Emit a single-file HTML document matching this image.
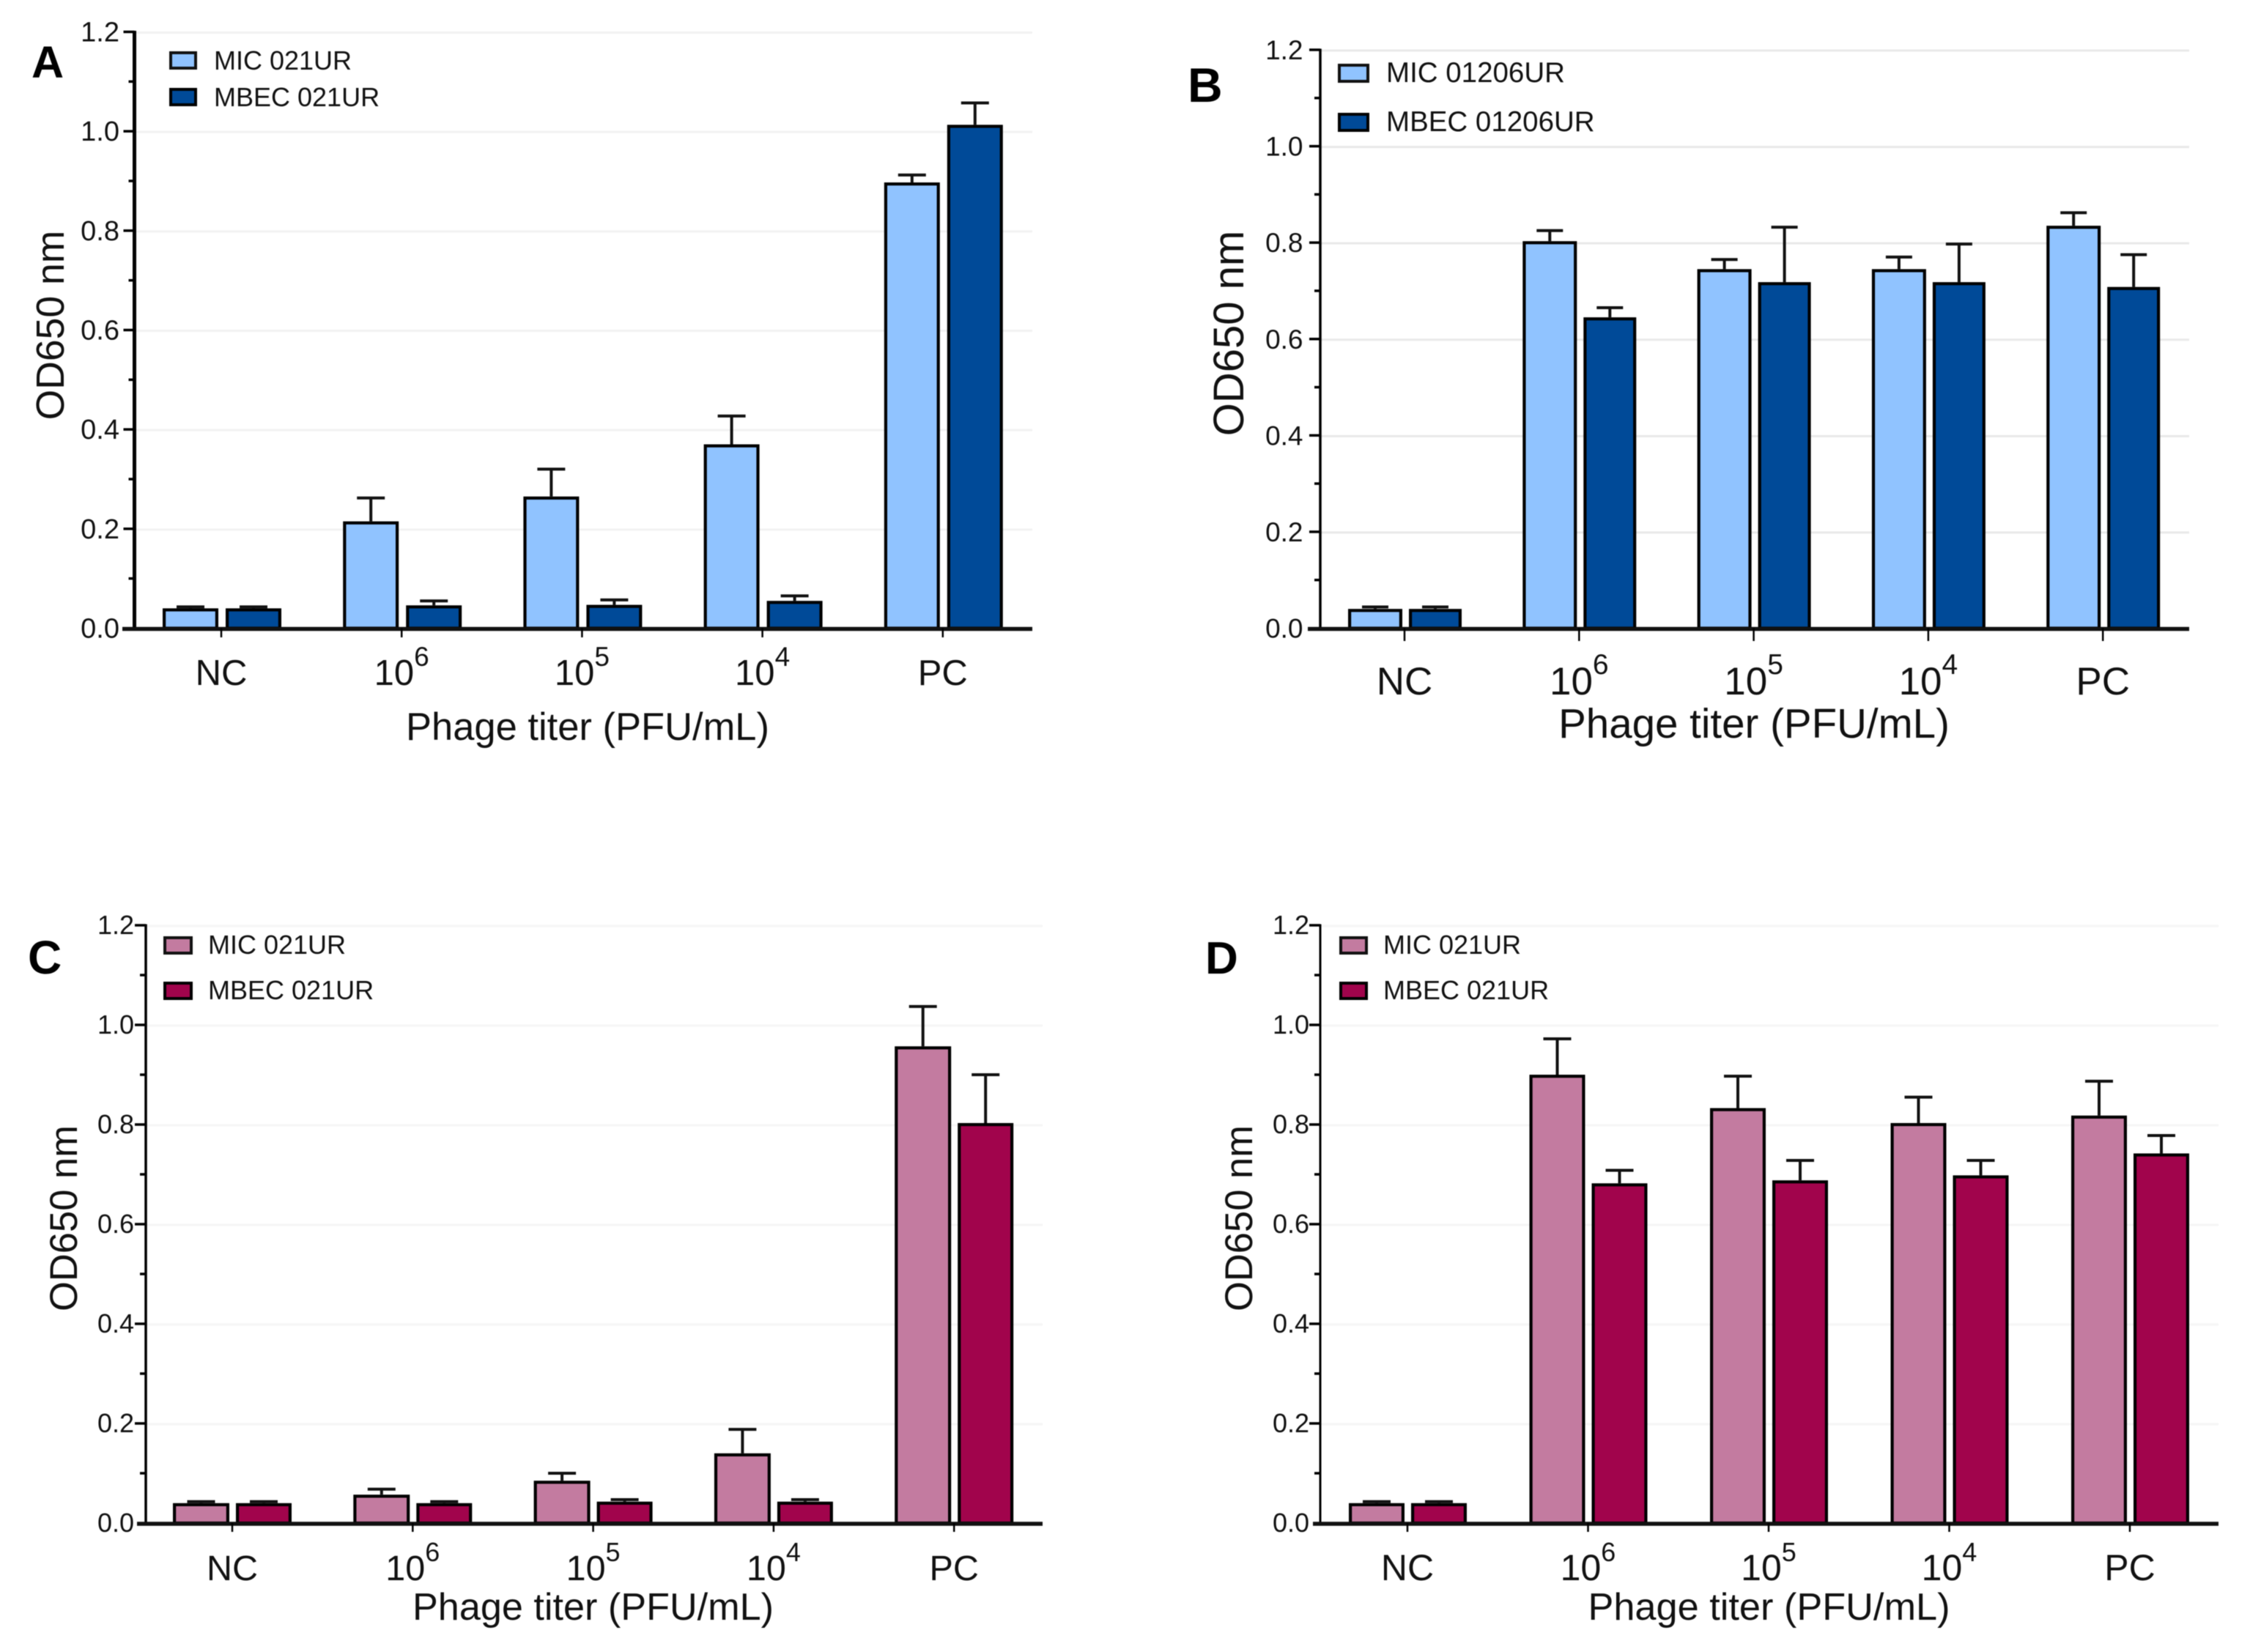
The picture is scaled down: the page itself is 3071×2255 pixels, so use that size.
<!DOCTYPE html>
<html lang="en">
<head>
<meta charset="utf-8">
<title>OD650 by phage titer</title>
<style>
html,body{margin:0;padding:0;background:#fff;}
svg{display:block;filter:blur(0.6px);}
text{font-family:"Liberation Sans",Arial,sans-serif;fill:#111;}
</style>
</head>
<body>
<svg id="figure" xmlns="http://www.w3.org/2000/svg" width="3071" height="2255" viewBox="0 0 3071 2255"></svg>
<script>
// Chart data
const categoryBases = ['NC', '10', '10', '10', 'PC'];
const categoryExponents = ['', '6', '5', '4', ''];
const yTickLabels = ['0.0', '0.2', '0.4', '0.6', '0.8', '1.0', '1.2'];
const yTickValues = [0, 0.2, 0.4, 0.6, 0.8, 1.0, 1.2];
const yMinorTickValues = [0.1, 0.3, 0.5, 0.7, 0.9, 1.1];

const panelAMicMeans = [0.04, 0.215, 0.265, 0.37, 0.897];
const panelAMicUpper = [0.043, 0.262, 0.32, 0.427, 0.912];
const panelAMbecMeans = [0.04, 0.046, 0.047, 0.055, 1.013];
const panelAMbecUpper = [0.043, 0.055, 0.057, 0.065, 1.057];

const panelBMicMeans = [0.04, 0.803, 0.745, 0.745, 0.835];
const panelBMicUpper = [0.044, 0.825, 0.765, 0.77, 0.862];
const panelBMbecMeans = [0.04, 0.645, 0.718, 0.718, 0.708];
const panelBMbecUpper = [0.044, 0.665, 0.832, 0.797, 0.775];

const panelCMicMeans = [0.04, 0.057, 0.085, 0.14, 0.957];
const panelCMicUpper = [0.043, 0.068, 0.1, 0.188, 1.037];
const panelCMbecMeans = [0.04, 0.04, 0.043, 0.043, 0.803];
const panelCMbecUpper = [0.043, 0.043, 0.047, 0.047, 0.9];

const panelDMicMeans = [0.04, 0.9, 0.833, 0.803, 0.818];
const panelDMicUpper = [0.043, 0.972, 0.897, 0.855, 0.887];
const panelDMbecMeans = [0.04, 0.682, 0.688, 0.698, 0.742];
const panelDMbecUpper = [0.043, 0.708, 0.728, 0.728, 0.778];

const SVGNS = 'http://www.w3.org/2000/svg';
const figure = document.getElementById('figure');
const barStroke = 4.2;

function make(parent, tag, props, content) {
  const node = document.createElementNS(SVGNS, tag);
  for (const key in props) { node.setAttribute(key, props[key]); }
  if (content !== undefined) { node.textContent = content; }
  parent.appendChild(node);
  return node;
}

const panels = [
  { id: 'a', letter: 'A', letterX: 43, letterY: 106, letterSize: 61,
    micMeans: panelAMicMeans, micUpper: panelAMicUpper, mbecMeans: panelAMbecMeans, mbecUpper: panelAMbecUpper,
    micColor: '#90C3FF', mbecColor: '#004A98', micLabel: 'MIC 021UR', mbecLabel: 'MBEC 021UR',
    axisX: 183.5, axisW: 5, axisLeft: 167, axisRight: 1409, y0: 857.5, yTop: 43.5, firstTick: 302, step: 246.2,
    barL: -80, barR: -4, bar2L: 6, bar2R: 82, capW: 38, tickSize: 38, tickRight: 163, tickDy: 13, gridColor: '#f2f2f2',
    tickBottom: 870, catBaseline: 935, catSize: 49, supBaseline: 909, supSize: 37,
    titleX: 802, titleY: 1010, titleSize: 52.5, yTitleX: 87, yTitleY: 444, yTitleSize: 53.5,
    legX: 231, legW: 38, legH: 25, legY1: 70, legY2: 120, legTextX: 292, legBase1: 95, legBase2: 145, legSize: 36 },
  { id: 'b', letter: 'B', letterX: 1621, letterY: 139, letterSize: 66,
    micMeans: panelBMicMeans, micUpper: panelBMicUpper, mbecMeans: panelBMbecMeans, mbecUpper: panelBMbecUpper,
    micColor: '#90C3FF', mbecColor: '#004A98', micLabel: 'MIC 01206UR', mbecLabel: 'MBEC 01206UR',
    axisX: 1802, axisW: 3.5, axisLeft: 1785, axisRight: 2988, y0: 857.5, yTop: 68, firstTick: 1917, step: 238.3,
    barL: -77, barR: -3, bar2L: 6, bar2R: 78, capW: 36, tickSize: 37, tickRight: 1778.5, tickDy: 13, gridColor: '#e9e9e9',
    tickBottom: 875, catBaseline: 948, catSize: 53, supBaseline: 920, supSize: 39,
    titleX: 2394, titleY: 1007, titleSize: 56.5, yTitleX: 1697, yTitleY: 455, yTitleSize: 58,
    legX: 1826, legW: 43, legH: 26, legY1: 87, legY2: 154, legTextX: 1892, legBase1: 112, legBase2: 179, legSize: 38.5 },
  { id: 'c', letter: 'C', letterX: 38, letterY: 1329, letterSize: 64,
    micMeans: panelCMicMeans, micUpper: panelCMicUpper, mbecMeans: panelCMbecMeans, mbecUpper: panelCMbecUpper,
    micColor: '#C37BA0', mbecColor: '#A1044C', micLabel: 'MIC 021UR', mbecLabel: 'MBEC 021UR',
    axisX: 199, axisW: 3.5, axisLeft: 187, axisRight: 1423, y0: 2079, yTop: 1263, firstTick: 317, step: 246.3,
    barL: -81, barR: -4, bar2L: 5, bar2R: 81, capW: 38, tickSize: 36, tickRight: 183, tickDy: 12, gridColor: '#f5f5f5',
    tickBottom: 2091, catBaseline: 2157, catSize: 48.5, supBaseline: 2131, supSize: 36,
    titleX: 809.5, titleY: 2211, titleSize: 52.2, yTitleX: 105, yTitleY: 1663, yTitleSize: 52.5,
    legX: 223, legW: 40, legH: 25, legY1: 1278, legY2: 1340, legTextX: 284, legBase1: 1302, legBase2: 1364, legSize: 36 },
  { id: 'd', letter: 'D', letterX: 1645, letterY: 1329, letterSize: 62,
    micMeans: panelDMicMeans, micUpper: panelDMicUpper, mbecMeans: panelDMbecMeans, mbecUpper: panelDMbecUpper,
    micColor: '#C37BA0', mbecColor: '#A1044C', micLabel: 'MIC 021UR', mbecLabel: 'MBEC 021UR',
    axisX: 1802, axisW: 3, axisLeft: 1792, axisRight: 3028, y0: 2079, yTop: 1263, firstTick: 1921, step: 246.5,
    barL: -80, barR: -4, bar2L: 5, bar2R: 81, capW: 38, tickSize: 36, tickRight: 1787, tickDy: 12, gridColor: '#f5f5f5',
    tickBottom: 2091, catBaseline: 2157, catSize: 50, supBaseline: 2131, supSize: 36,
    titleX: 2414.5, titleY: 2211, titleSize: 52.3, yTitleX: 1709, yTitleY: 1663, yTitleSize: 52.5,
    legX: 1828, legW: 39, legH: 25, legY1: 1278, legY2: 1340, legTextX: 1888, legBase1: 1302, legBase2: 1364, legSize: 36 }
];

function drawSeries(g, p, yScale, xScale, means, upper, left, right, color, seriesName) {
  means.forEach(function (value, i) {
    const cx = xScale(i);
    const barLeft = cx + left;
    const barRight = cx + right;
    const mid = (barLeft + barRight) / 2;
    const err = make(g, 'g', {});
    
    
    make(err, 'line', { x1: mid, x2: mid, y1: yScale(value), y2: yScale(upper[i]), stroke: '#111', 'stroke-width': 4 });
    make(err, 'line', { x1: mid - p.capW / 2, x2: mid + p.capW / 2, y1: yScale(upper[i]), y2: yScale(upper[i]), stroke: '#111', 'stroke-width': 4 });
    const bar = make(g, 'rect', {
      x: barLeft + barStroke / 2, width: barRight - barLeft - barStroke,
      y: yScale(value) + barStroke / 2, height: Math.max(0, p.y0 - yScale(value) - barStroke / 2),
      fill: color, stroke: '#000', 'stroke-width': barStroke
    });
    
    
  });
}

panels.forEach(function (p) {
  const unit = (p.y0 - p.yTop) / 1.2;
  const yScale = function (v) { return p.y0 - v * unit; };
  const xScale = function (i) { return p.firstTick + i * p.step; };

  const g = make(figure, 'g', {});
  
  

  const letter = make(g, 'text', { x: p.letterX, y: p.letterY, 'font-size': p.letterSize, 'font-weight': 'bold', style: 'fill:#000' }, p.letter);
  
  

  const gridGroup = make(g, 'g', {});
  
  
  yTickValues.slice(1).forEach(function (v) {
    make(gridGroup, 'line', { x1: p.axisX, x2: p.axisRight, y1: yScale(v) + 1, y2: yScale(v) + 1, stroke: p.gridColor, 'stroke-width': 3 });
  });

  drawSeries(g, p, yScale, xScale, p.micMeans, p.micUpper, p.barL, p.barR, p.micColor, 'mic');
  drawSeries(g, p, yScale, xScale, p.mbecMeans, p.mbecUpper, p.bar2L, p.bar2R, p.mbecColor, 'mbec');

  const yAxis = make(g, 'g', {});
  
  
  make(yAxis, 'line', { x1: p.axisX, x2: p.axisX, y1: p.yTop - 1.5, y2: p.y0, stroke: '#000', 'stroke-width': p.axisW });
  yTickValues.forEach(function (v, i) {
    if (i > 0) {
      make(yAxis, 'line', { x1: p.axisX - 15, x2: p.axisX, y1: yScale(v), y2: yScale(v), stroke: '#000', 'stroke-width': 3.5 });
    }
    const label = make(yAxis, 'text', { x: p.tickRight, y: yScale(v) + p.tickDy, 'font-size': p.tickSize, 'text-anchor': 'end' }, yTickLabels[i]);
    
    
  });
  yMinorTickValues.forEach(function (v) {
    make(yAxis, 'line', { x1: p.axisX - 8, x2: p.axisX, y1: yScale(v), y2: yScale(v), stroke: '#000', 'stroke-width': 3.5 });
  });

  const yTitle = make(g, 'text', {
    transform: 'translate(' + p.yTitleX + ',' + p.yTitleY + ') rotate(-90)',
    'font-size': p.yTitleSize, 'text-anchor': 'middle'
  }, 'OD650 nm');
  
  

  const xAxis = make(g, 'g', {});
  
  
  make(xAxis, 'line', { x1: p.axisLeft, x2: p.axisRight, y1: p.y0 + 1, y2: p.y0 + 1, stroke: '#111', 'stroke-width': 5.5 });
  categoryBases.forEach(function (base, i) {
    const cx = xScale(i);
    make(xAxis, 'line', { x1: cx, x2: cx, y1: p.y0, y2: p.tickBottom, stroke: '#000', 'stroke-width': 2.5 });
    const exponent = categoryExponents[i];
    const label = make(xAxis, 'text', { x: cx, y: p.catBaseline, 'font-size': p.catSize, 'text-anchor': 'middle' });
    
    
    make(label, 'tspan', {}, base);
    if (exponent) {
      make(label, 'tspan', { 'font-size': p.supSize, dy: p.supBaseline - p.catBaseline }, exponent);
    }
  });

  const xTitle = make(g, 'text', { x: p.titleX, y: p.titleY, 'font-size': p.titleSize, 'text-anchor': 'middle' }, 'Phage titer (PFU/mL)');
  
  

  const legendMic = make(g, 'g', {});
  
  
  make(legendMic, 'rect', { x: p.legX + 2, y: p.legY1 + 2, width: p.legW - 4, height: p.legH - 4, fill: p.micColor, stroke: '#111', 'stroke-width': 4 });
  make(legendMic, 'text', { x: p.legTextX, y: p.legBase1, 'font-size': p.legSize }, p.micLabel);

  const legendMbec = make(g, 'g', {});
  
  
  make(legendMbec, 'rect', { x: p.legX + 2, y: p.legY2 + 2, width: p.legW - 4, height: p.legH - 4, fill: p.mbecColor, stroke: '#000', 'stroke-width': 4 });
  make(legendMbec, 'text', { x: p.legTextX, y: p.legBase2, 'font-size': p.legSize }, p.mbecLabel);
});
</script>
</body>
</html>
